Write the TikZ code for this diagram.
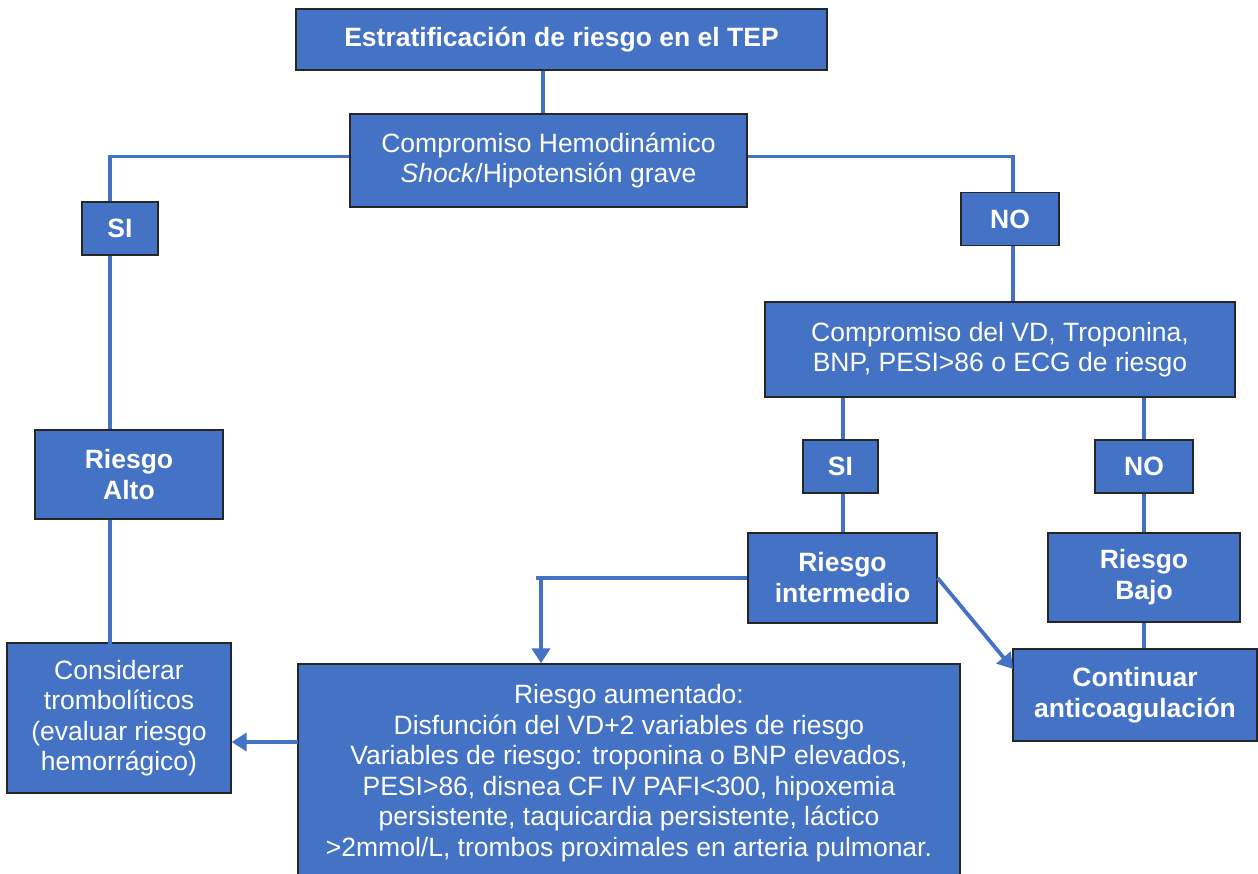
\documentclass[tikz,border=0pt]{standalone}
\usepackage{fontspec}
\setmainfont{Liberation Sans}
\usetikzlibrary{arrows.meta,calc}
\definecolor{boxblue}{RGB}{68,114,196}
\definecolor{boxedge}{RGB}{38,38,38}

\begin{document}
\begin{tikzpicture}[x=1pt,y=-1pt,
  box/.style={draw=boxedge, line width=1.3pt, fill=boxblue, text=white,
    align=center, inner sep=0pt, font=\fontsize{26.5}{30.5}\selectfont},
  bbox/.style={box, font=\fontsize{26.5}{31}\selectfont\bfseries},
  link/.style={draw=boxblue, line width=3.8pt},
  arrow/.style={link, -{Triangle[length=15pt,width=18pt]}}]

\useasboundingbox (0,0) rectangle (1258,873);
\clip (0,0) rectangle (1258,873);

% boxes
\node[bbox, minimum width=531pt, minimum height=61pt] (title) at (561.5,39.5)
  {Estratificación de riesgo en el TEP};
\node[box, minimum width=397pt, minimum height=93pt] (hemo) at (548.5,160.5)
  {Compromiso Hemodinámico\\\textit{Shock}/Hipotensión grave};
\node[bbox, minimum width=76pt, minimum height=53pt] (si1) at (120,228.5) {SI};
\node[bbox, minimum width=98pt, minimum height=53pt] (no1) at (1010,219) {NO};
\node[box, minimum width=470pt, minimum height=95pt] (vd) at (1000,349.5)
  {Compromiso del VD, Troponina,\\BNP, PESI>86 o ECG de riesgo};
\node[bbox, minimum width=75pt, minimum height=53pt] (si2) at (840.5,466.5) {SI};
\node[bbox, minimum width=98pt, minimum height=53pt] (no2) at (1144,466.5) {NO};
\node[bbox, minimum width=188pt, minimum height=89pt] (alto) at (129,474.5)
  {Riesgo\\Alto};
\node[bbox, minimum width=189pt, minimum height=90pt] (inter) at (842.5,578)
  {Riesgo\\intermedio};
\node[bbox, minimum width=192pt, minimum height=89pt] (bajo) at (1144,577.5)
  {Riesgo\\Bajo};
\node[bbox, minimum width=244pt, minimum height=92pt] (cont) at (1135,695)
  {Continuar\\anticoagulación};
\node[box, minimum width=224pt, minimum height=150pt] (cons) at (119,718)
  {Considerar\\trombolíticos\\(evaluar riesgo\\hemorrágico)};
\node[box, minimum width=662pt, minimum height=218pt] (aug) at (629,773)
  {Riesgo aumentado:\\
   Disfunción del VD+2 variables de riesgo\\
   Variables de riesgo: troponina o BNP elevados,\\
   PESI>86, disnea CF IV PAFI<300, hipoxemia\\
   persistente, taquicardia persistente, láctico\\
   >2mmol/L, trombos proximales en arteria pulmonar.};

% vertical axes of the connectors
\coordinate (xTop) at (543,0);
\coordinate (xL)   at (110,0);
\coordinate (xR)   at (1013,0);
\coordinate (xSI)  at (843,0);
\coordinate (xNO)  at (1144,0);
\coordinate (xAug) at (541,0);
\coordinate (elbow)  at (536,578);
\coordinate (contIn) at (1013,669);
\coordinate (augOut) at (298,742);

% connectors
\draw[link] (title.south -| xTop) -- (hemo.north -| xTop);
\draw[link] ($(hemo.west)+(0,-4)$) -| (si1.north -| xL);
\draw[link] (si1.south -| xL) -- (alto.north -| xL);
\draw[link] (alto.south -| xL) -- ($(cons.north -| xL)+(0,6)$);
\draw[link] ($(hemo.east)+(0,-4)$) -| (no1.north -| xR);
\draw[link] (no1.south -| xR) -- (vd.north -| xR);
\draw[link] (vd.south -| xSI) -- (si2.north -| xSI);
\draw[link] (si2.south -| xSI) -- (inter.north -| xSI);
\draw[link] (vd.south -| xNO) -- (no2.north -| xNO);
\draw[link] (no2.south -| xNO) -- (bajo.north -| xNO);
\draw[link] (bajo.south -| xNO) -- (cont.north -| xNO);
\draw[link] (inter.west) -- (elbow);
\draw[arrow] (elbow -| xAug) -- (aug.north -| xAug);
\draw[arrow] (inter.east) -- (contIn);
\draw[arrow] (augOut) -- (cons.east |- augOut);
\end{tikzpicture}
\end{document}
